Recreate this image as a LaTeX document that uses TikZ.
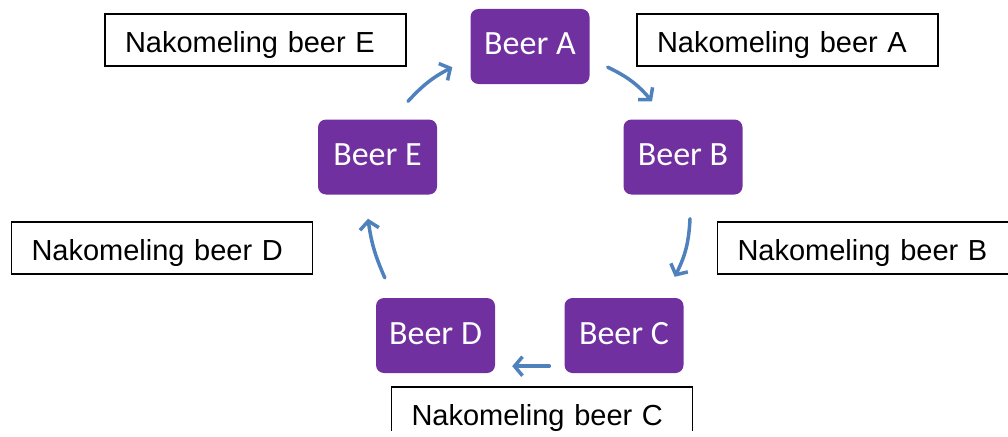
\documentclass[tikz,border=0pt]{standalone}
\usepackage{fontspec}
\usetikzlibrary{arrows.meta}
\newfontfamily\beerfont{Carlito}
\newfontfamily\nakfont{Liberation Sans}
\definecolor{beerpurple}{RGB}{112,48,160}
\definecolor{flowblue}{RGB}{79,129,189}
\tikzset{
  beer/.style={fill=beerpurple, rounded corners=8pt, text=white,
    font=\beerfont\fontsize{34pt}{40pt}\selectfont,
    minimum width=119pt, minimum height=75pt, inner sep=0pt,
    text height=21pt, text depth=4pt},
  nakbox/.style={draw, line width=1.6pt,
    font=\nakfont\fontsize{29pt}{34pt}\selectfont,
    text width=261pt, inner xsep=20pt, inner ysep=0pt, align=left,
    minimum height=52pt, text height=25pt, text depth=0pt},
  flow/.style={draw=flowblue, line width=3.5pt, line cap=round,
    -{Straight Barb[length=8pt,width=19pt]}}
}
\begin{document}
\begin{tikzpicture}[x=1pt,y=-1pt]
\useasboundingbox (0,0) rectangle (1008,436);
\clip (0,0) rectangle (1008,430);
% circle of boxes
\node[beer] (beerA) at (530,46.5) {Beer A};
\node[beer] (beerB) at (683,157) {Beer B};
\node[beer] (beerC) at (624,335.5) {Beer C};
\node[beer] (beerD) at (435.5,335.5) {Beer D};
\node[beer] (beerE) at (377.5,157) {Beer E};
% labels
\node[nakbox] (nakA) at (787.5,40) {Nakomeling beer A};
\node[nakbox] (nakB) at (868,248) {Nakomeling beer B};
\node[nakbox] (nakC) at (542,413) {Nakomeling beer C};
\node[nakbox] (nakD) at (162,248) {Nakomeling beer D};
\node[nakbox] (nakE) at (255.5,40) {Nakomeling beer E};
% arrows
\draw[flow] ([xshift=18pt,yshift=17pt]beerA.south east) to[bend left=12] ([xshift=-31pt,yshift=18pt]beerB.north);
\draw[flow] ([xshift=7pt,yshift=-24pt]beerB.south) to[bend left=12] ([xshift=-9pt,yshift=21pt]beerC.north east);
\draw[flow] ([xshift=-15pt,yshift=7pt]beerC.south west) -- ([xshift=17pt,yshift=7pt]beerD.south east);
\draw[flow] ([xshift=9pt,yshift=20pt]beerD.north west) to[bend left=8] ([xshift=-9.5pt,yshift=-24pt]beerE.south);
\draw[flow] ([xshift=30.5pt,yshift=18pt]beerE.north) to[bend left=10] ([xshift=-18pt,yshift=17pt]beerA.south west);
\end{tikzpicture}
\end{document}
